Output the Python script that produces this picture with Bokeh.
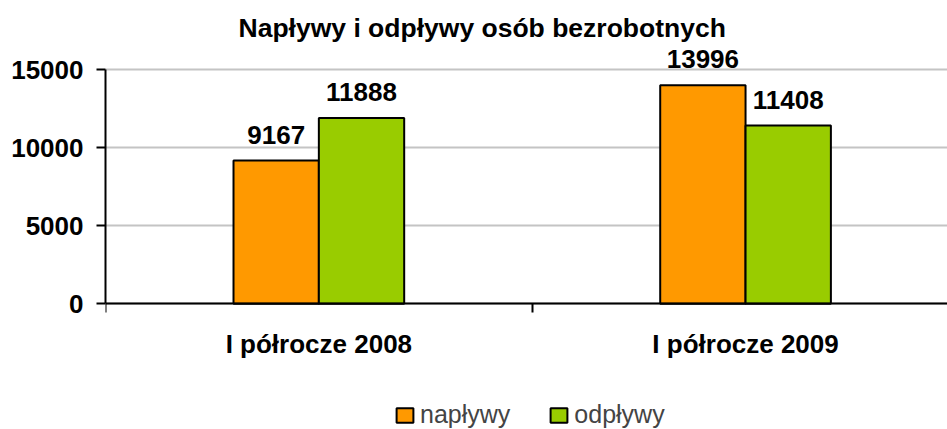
from bokeh.plotting import figure
from bokeh.models import FixedTicker, Range1d, Legend, LegendItem
from bokeh.embed import file_html
from bokeh.resources import INLINE
from bokeh.core.properties import value

# ---- data ----
title_text = "Napływy i odpływy osób bezrobotnych"
categories = ["I półrocze 2008", "I półrocze 2009"]
series_names = ["napływy", "odpływy"]
naplywy = [9167, 13996]
odplywy = [11888, 11408]
y_ticks = [0, 5000, 10000, 15000]
colors = ["#FF9900", "#99CC00"]

# ---- layout (pixels) ----
FONT = "Liberation Sans"
W, H = 947, 429
B_LEFT, B_TOP = 105, 44
ZERO_Y = 303.3          # screen y of value 0
px_per_cat = 426.7
px_per_15000 = 234.3
frame_w = W - B_LEFT
y_max = y_ticks[-1]
ppu = px_per_15000 / y_max
x_end = frame_w / px_per_cat
y_end = (ZERO_Y - B_TOP) / ppu
y_start = -(H - ZERO_Y) / ppu

centers = [i + 0.5 for i in range(len(categories))]
bounds_x = [i for i in range(len(categories) + 1)]
bw = 0.2

p = figure(width=W, height=H, x_range=Range1d(0, x_end), y_range=Range1d(y_start, y_end),
           output_backend="svg", toolbar_location=None,
           min_border_left=B_LEFT, min_border_right=0,
           min_border_bottom=0, min_border_top=B_TOP)
p.outline_line_color = None
p.background_fill_color = "white"

r1 = p.vbar(x=[c - bw / 2 for c in centers], top=naplywy, width=bw,
            fill_color=colors[0], line_color="black", line_width=2)
r2 = p.vbar(x=[c + bw / 2 for c in centers], top=odplywy, width=bw,
            fill_color=colors[1], line_color="black", line_width=2)

for xs, vals in (([c - bw / 2 for c in centers], naplywy), ([c + bw / 2 for c in centers], odplywy)):
    p.text(x=xs, y=vals, text=[str(v) for v in vals], text_align="center",
           text_baseline="alphabetic", y_offset=-26,
           text_font=value(FONT), text_font_style="bold", text_font_size="26px",
           text_color="black")

# x axis (drawn at value 0 inside the frame)
xa = p.xaxis[0]
xa.fixed_location = 0
xa.ticker = FixedTicker(ticks=centers, minor_ticks=bounds_x)
xa.major_label_overrides = {c: cat for c, cat in zip(centers, categories)}
xa.major_tick_in = 0
xa.major_tick_out = 0
xa.minor_tick_in = 0
xa.minor_tick_out = 9
xa.minor_tick_line_width = 2
xa.minor_tick_line_color = "black"
xa.axis_line_width = 2
xa.axis_line_color = "black"
xa.major_label_standoff = 16
xa.major_label_text_font = FONT
xa.major_label_text_font_style = "bold"
xa.major_label_text_font_size = "26px"
xa.major_label_text_color = "black"

# y axis
ya = p.yaxis[0]
ya.ticker = FixedTicker(ticks=y_ticks)
ya.bounds = (0, y_max)
ya.major_tick_in = 0
ya.major_tick_out = 9
ya.major_tick_line_width = 2
ya.minor_tick_line_color = None
ya.axis_line_width = 2
ya.axis_line_color = "black"
ya.major_label_standoff = 13
ya.major_label_text_font = FONT
ya.major_label_text_font_style = "bold"
ya.major_label_text_font_size = "26px"
ya.major_label_text_color = "black"

p.xgrid.grid_line_color = None
p.ygrid.ticker = FixedTicker(ticks=y_ticks)
p.ygrid.grid_line_color = "#c4c4c4"
p.ygrid.grid_line_width = 2

# title
p.title.text = title_text
p.title.text_font = FONT
p.title.text_font_style = "bold"
p.title.text_font_size = "26.5px"
p.title.text_color = "black"
p.title.align = "left"
p.title.offset = 133
p.title.standoff = 4

legend = Legend(items=[LegendItem(label=series_names[0], renderers=[r1]),
                       LegendItem(label=series_names[1], renderers=[r2])],
                orientation="horizontal", location=(289, 0),
                glyph_width=21, glyph_height=18, label_standoff=5, spacing=38,
                padding=0, margin=0, border_line_color=None, background_fill_alpha=0,
                label_text_font=FONT, label_text_font_size="25px")
p.add_layout(legend, "center")

open("out.html", "w").write(file_html(p, INLINE))
